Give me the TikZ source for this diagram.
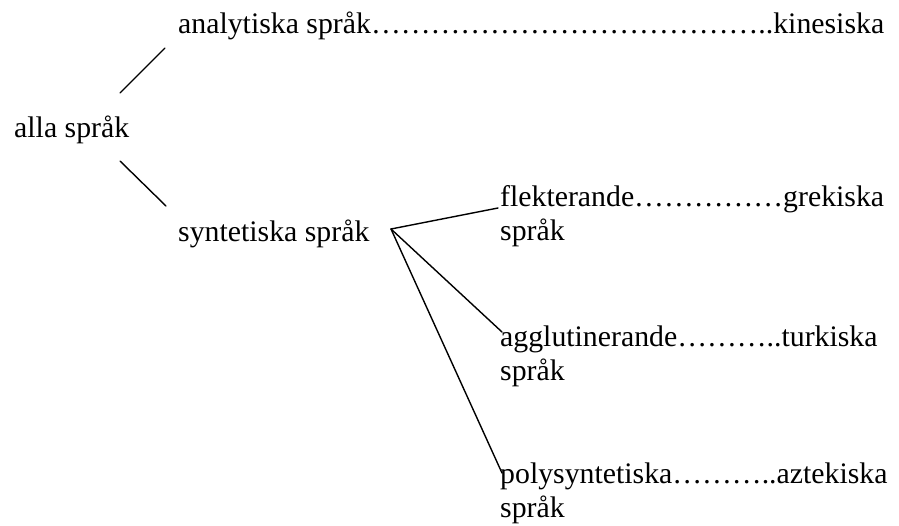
\documentclass[tikz,border=0pt]{standalone}
\usepackage{fontspec}
\setmainfont{Liberation Serif}
\newcommand\ellrep[1]{\foreach\i in {1,...,#1}{…}}
\begin{document}
\begin{tikzpicture}[x=1pt,y=-1pt,
  lbl/.style={anchor=base west, inner sep=0pt, font=\fontsize{29.8}{34.3}\selectfont},
  conn/.style={line width=1.4pt, line cap=round}]
\useasboundingbox[fill=white] (0,0) rectangle (899,525);
% nodes
\node[lbl] (alla) at (14,137) {alla språk};
\node[lbl] (ana) at (178,33) {analytiska språk\ellrep{13}..kinesiska};
\node[lbl] (syn) at (178,241) {syntetiska språk};
\node[lbl] (fle) at (500,206) {flekterande\ellrep{5}grekiska};
\node[lbl] (fle2) at (500,240) {språk};
\node[lbl] (agg) at (500,346) {agglutinerande\ellrep{3}..turkiska};
\node[lbl] (agg2) at (500,380) {språk};
\node[lbl] (pol) at (500,483) {polysyntetiska\ellrep{3}..aztekiska};
\node[lbl] (pol2) at (500,517) {språk};
% free line ends
\coordinate (a1) at (120,93);
\coordinate (a2) at (165,48);
\coordinate (s1) at (120,161);
\coordinate (s2) at (166,206);
\coordinate (b) at (391,229);
% connectors
\draw[conn] (a1) -- (a2);
\draw[conn] (s1) -- (s2);
\draw[conn] (b) -- ([shift={(-2,2)}]fle.base west);
\draw[conn] (b) -- ([shift={(2,-14)}]agg.base west);
\draw[conn] (b) -- ([shift={(2,-10)}]pol.base west);
\end{tikzpicture}
\end{document}
